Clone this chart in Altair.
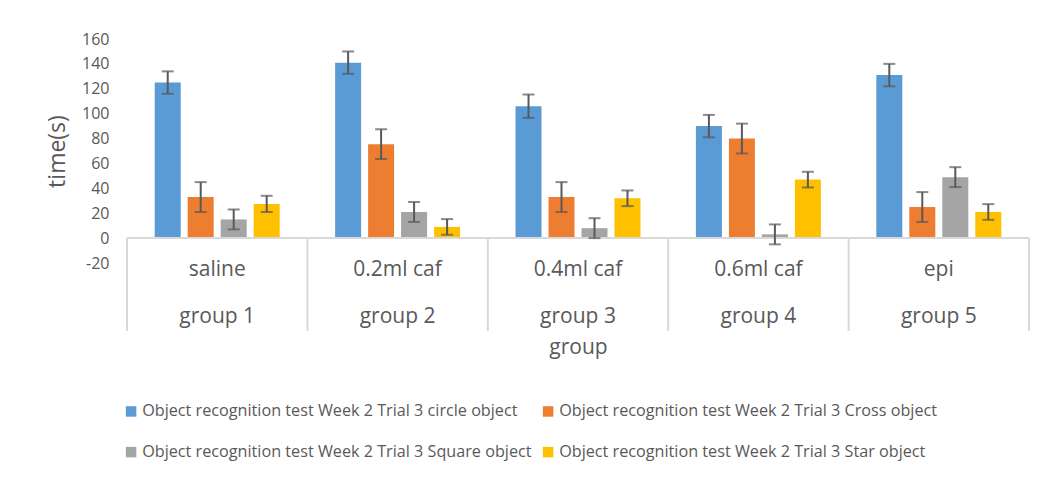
import altair as alt
import pandas as pd

groups = ["group 1", "group 2", "group 3", "group 4", "group 5"]
conditions = ["saline", "0.2ml caf", "0.4ml caf", "0.6ml caf", "epi"]
series = [
    "Object recognition test Week 2 Trial 3 circle object",
    "Object recognition test Week 2 Trial 3 Cross object",
    "Object recognition test Week 2 Trial 3 Square object",
    "Object recognition test Week 2 Trial 3 Star object",
]
circle = [125, 141, 106, 90, 131]
cross = [33, 75.5, 33, 80, 25]
square = [15, 21, 8, 3, 49]
star = [27.5, 9, 32, 47, 21]
err_circle = [9, 9, 9.4, 9, 9]
err_cross = [12, 12, 12, 12, 12]
err_square = [8, 8, 8, 8, 8]
err_star = [6.5, 6.3, 6.3, 6.3, 6.3]
y_ticks = [-20, 0, 20, 40, 60, 80, 100, 120, 140, 160]
colors = ["#5B9BD5", "#ED7D31", "#A5A5A5", "#FFC000"]

values = [circle, cross, square, star]
errs = [err_circle, err_cross, err_square, err_star]
rows = []
for s, vals, es in zip(series, values, errs):
    for g, c, v, e in zip(groups, conditions, vals, es):
        rows.append({"group": g, "cond": c, "series": s, "value": v,
                     "lo": v - e, "hi": v + e})
df = pd.DataFrame(rows)
cats = pd.DataFrame({"group": groups, "cond": conditions})
last = cats.tail(1)

FONT = "Open Sans"
GREY = "#595959"
LINE = "#D9D9D9"

xscale = alt.Scale(domain=groups, paddingInner=0, paddingOuter=0)
xaxis = alt.Axis(labels=False, ticks=False, domain=False, title="group",
                 titleFont=FONT, titleFontSize=21, titleFontWeight="normal",
                 titleColor=GREY, titlePadding=73)
yaxis = alt.Axis(values=y_ticks, grid=False, domain=False, ticks=False,
                 labelOverlap=False, labelFont=FONT, labelFontSize=16,
                 labelExpr="'' + datum.value",
                 labelColor=GREY, labelPadding=18, title="time(s)",
                 titleFont=FONT, titleFontSize=23, titleFontWeight="normal",
                 titleColor=GREY, titlePadding=12)
yscale = alt.Scale(domain=[-20, 160], nice=False)
xg = alt.X("group:N", scale=xscale, axis=xaxis, title="group")
xoff = alt.XOffset("series:N", scale=alt.Scale(domain=series, paddingInner=0.212, paddingOuter=0.84))


def ycol(field):
    return alt.Y(field, scale=yscale, axis=yaxis, title="time(s)")


base = alt.Chart(df)

bars = base.mark_bar().encode(
    x=xg,
    xOffset=xoff,
    y=ycol("value:Q"),
    color=alt.Color("series:N", scale=alt.Scale(domain=series, range=colors),
                    legend=alt.Legend(orient="none", legendX=-4, legendY=364, columns=2,
                                      direction="horizontal",
                                      title=None, symbolType="square", symbolSize=110,
                                      symbolStrokeWidth=0, labelFont=FONT,
                                      labelFontSize=16.2, labelColor=GREY,
                                      labelLimit=700, columnPadding=8, rowPadding=24,
                                      labelOffset=3)),
)

err = base.mark_rule(color=GREY, strokeWidth=2).encode(
    x=xg, xOffset=xoff, y=ycol("lo:Q"), y2="hi:Q")
cap_lo = base.mark_tick(color=GREY, thickness=2, size=12, orient="horizontal").encode(
    x=xg, xOffset=xoff, y=ycol("lo:Q"))
cap_hi = base.mark_tick(color=GREY, thickness=2, size=12, orient="horizontal").encode(
    x=xg, xOffset=xoff, y=ycol("hi:Q"))

zero = alt.Chart(cats).mark_rule(color=LINE, strokeWidth=2).encode(
    y=alt.datum(0, scale=yscale, axis=yaxis, title="time(s)"))
vlines = alt.Chart(cats).mark_rule(color=LINE, strokeWidth=2).encode(
    x=alt.X("group:N", scale=xscale, axis=xaxis, title="group", bandPosition=0),
    y=alt.datum(0, scale=yscale, axis=yaxis, title="time(s)"), y2=alt.value(292))
vlast = alt.Chart(last).mark_rule(color=LINE, strokeWidth=2).encode(
    x=alt.X("group:N", scale=xscale, axis=xaxis, title="group", bandPosition=1),
    y=alt.datum(0, scale=yscale, axis=yaxis, title="time(s)"), y2=alt.value(292))

cond_text = alt.Chart(cats).mark_text(font=FONT, fontSize=21, color=GREY, baseline="middle").encode(
    x=xg, y=alt.value(231), text="cond:N")
group_text = alt.Chart(cats).mark_text(font=FONT, fontSize=21, color=GREY, baseline="middle").encode(
    x=xg, y=alt.value(278), text="group:N")

chart = alt.layer(bars, zero, vlines, vlast, err, cap_lo, cap_hi, cond_text, group_text).properties(
    width=902, height=224,
    autosize=alt.AutoSizeParams(type="none"),
    padding={"left": 119, "top": 31, "right": 9, "bottom": 200},
).configure_view(stroke=None).configure_axisY(labelOverlap=False)

chart.save("out.html", embed_options={"renderer": "svg", "actions": False})
